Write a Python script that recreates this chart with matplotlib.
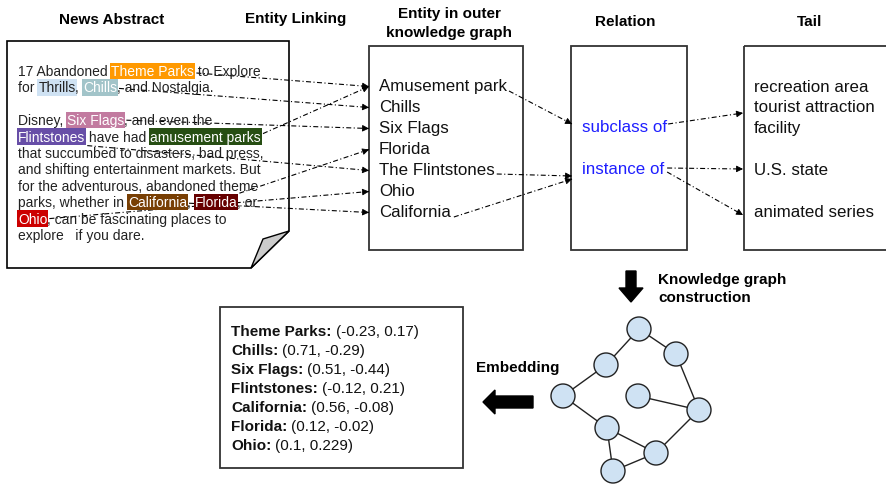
import matplotlib
matplotlib.use("Agg")
import matplotlib.pyplot as plt
from matplotlib.patches import Polygon, Rectangle, Circle

plt.rcParams["font.family"] = ["Liberation Sans", "DejaVu Sans"]

# news abstract: (text, highlight colour, text colour)
NEWS_LINES = [
    [("17 Abandoned ", None), ("Theme Parks", "#ff9900"), (" to Explore", None)],
    [("for ", None), ("Thrills", "#cfe2f3"), (", ", None), ("Chills", "#a2c4c9"),
     (", and Nostalgia.", None)],
    [],
    [("Disney, ", None), ("Six Flags", "#c27ba0"), (", and even the", None)],
    [("Flintstones", "#674ea7"), (" have had ", None), ("amusement parks", "#274e13")],
    [("that succumbed to disasters, bad press,", None)],
    [("and shifting entertainment markets. But", None)],
    [("for the adventurous, abandoned theme", None)],
    [("parks, whether in ", None), ("California", "#783f04"), (", ", None),
     ("Florida", "#660000"), (", or", None)],
    [("Ohio", "#cc0000"), (", can be fascinating places to", None)],
    [("explore   if you dare.", None)],
]
DARK_TEXT_ON = {"#cfe2f3"}

ENTITIES = ["Amusement park", "Chills", "Six Flags", "Florida",
            "The Flintstones", "Ohio", "California"]
RELATIONS = ["subclass of", "instance of"]
TAILS = [("recreation area", 0), ("tourist attraction", 1), ("facility", 2),
         ("U.S. state", 4), ("animated series", 6)]

# mention in abstract -> entity in outer KG
LINKS = [("Theme Parks", "Amusement park"), ("Chills", "Chills"),
         ("Six Flags", "Six Flags"), ("amusement parks", "Amusement park"),
         ("Flintstones", "The Flintstones"), ("California", "California"),
         ("Florida", "Florida"), ("Ohio", "Ohio")]

EMB_NAMES = ["Theme Parks", "Chills", "Six Flags", "Flintstones",
             "California", "Florida", "Ohio"]
EMB_VALUES = ["(-0.23, 0.17)", "(0.71, -0.29)", "(0.51, -0.44)", "(-0.12, 0.21)",
              "(0.56, -0.08)", "(0.12, -0.02)", "(0.1, 0.229)"]

# layout of the small knowledge graph drawing
NODES = [(639, 330), (676, 355), (606, 366), (563, 397), (638, 397),
         (699, 411), (607, 429), (656, 454), (613, 472)]
EDGES = [(0, 1), (0, 2), (2, 3), (3, 6), (4, 5), (1, 5), (5, 7), (6, 7),
         (6, 8), (8, 7)]

DASH = (0, (4.5, 2.2, 1.0, 2.2))
BOX_EC = "#333333"
BLUE = "#1f1fff"

fig = plt.figure(figsize=(8.86, 4.85), dpi=100)
ax = fig.add_axes([0, 0, 1, 1])
ax.set_xlim(0, 886)
ax.set_ylim(485, 0)
ax.axis("off")
renderer = fig.canvas.get_renderer()


def text_width(s, **kw):
    t = ax.text(0, 0, s, **kw)
    w = t.get_window_extent(renderer).width
    t.remove()
    return w


def prefix_width(s, **kw):
    # sentinel keeps trailing spaces in the measurement
    return text_width(s + "|", **kw) - text_width("|", **kw)


def dash_arrow(p0, p1):
    ax.plot([p0[0], p1[0]], [p0[1], p1[1]], color="k", lw=0.8, ls=DASH,
            solid_capstyle="butt")
    dx, dy = p1[0] - p0[0], p1[1] - p0[1]
    n = (dx ** 2 + dy ** 2) ** 0.5
    ax.annotate("", xy=p1, xytext=(p1[0] - 3 * dx / n, p1[1] - 3 * dy / n),
                arrowprops=dict(arrowstyle="-|>", color="k", lw=0.6,
                                mutation_scale=10, shrinkA=0, shrinkB=0))


# headers
hdr = dict(fontsize=11, fontweight="bold", ha="center", va="center")
ax.text(112, 20, "News Abstract", **hdr)
ax.text(296, 19, "Entity Linking", **hdr)
ax.text(449, 14, "Entity in outer", **hdr)
ax.text(449, 33, "knowledge graph", **hdr)
ax.text(625, 22, "Relation", **hdr)
ax.text(810, 22, "Tail", **hdr)

# news abstract page with folded corner
ax.add_patch(Polygon([(7, 42), (289, 42), (289, 232), (251, 269), (7, 269)],
                     closed=True, fc="white", ec="black", lw=1.2))
ax.add_patch(Polygon([(289, 232), (263, 240), (251, 269)], closed=True,
                     fc="#cccccc", ec="black", lw=1.0))

news_kw = dict(fontsize=10)
mention_box = {}
y0, step = 72.0, 16.4
for i, line in enumerate(NEWS_LINES):
    y = y0 + i * step
    prefix = ""
    for seg, hl in line:
        x = 18 + prefix_width(prefix, **news_kw) if prefix else 18
        if hl is None:
            ax.text(x, y, seg, va="center", ha="left", color="#222222", **news_kw)
        else:
            tc = "#222222" if hl in DARK_TEXT_ON else "white"
            t = ax.text(x, y, seg, va="center", ha="left", color=tc, zorder=3,
                        bbox=dict(boxstyle="square,pad=0.08", fc=hl, ec="none"),
                        **news_kw)
            w = text_width(seg, **news_kw)
            mention_box[seg] = (x, x + w, y)
        prefix += seg

# entity / relation / tail boxes
ax.add_patch(Rectangle((369, 47), 154, 204, fc="none", ec=BOX_EC, lw=1.3))
ax.add_patch(Rectangle((571, 47), 116, 204, fc="none", ec=BOX_EC, lw=1.3))
ax.add_patch(Rectangle((744, 47), 160, 204, fc="none", ec=BOX_EC, lw=1.3,
                       clip_on=False))

item_kw = dict(fontsize=12.2, va="center", ha="left")
ent_y = {}
ent_right = {}
for i, name in enumerate(ENTITIES):
    y = 87 + i * 21.0
    ax.text(379, y, name, color="#111111", **item_kw)
    ent_y[name] = y
    ent_right[name] = 379 + text_width(name, fontsize=12.2)

rel_y = {}
for i, r in enumerate(RELATIONS):
    y = 128 + i * 42
    ax.text(582, y, r, color=BLUE, **item_kw)
    rel_y[r] = y
rel_right = 582 + max(text_width(r, fontsize=12.2) for r in RELATIONS)

for name, row in TAILS:
    ax.text(754, 87 + row * 21.0, name, color="#111111", **item_kw)

# entity linking arrows
start_dy = {"Theme Parks": 2, "Chills": 1, "Six Flags": 0, "amusement parks": -3,
            "Flintstones": 9, "California": 1, "Florida": -9, "Ohio": 0}
for mention, ent in LINKS:
    x0, x1, y = mention_box[mention]
    dash_arrow((x1 + 2, y + start_dy[mention]), (369, ent_y[ent] + 0.5))

# entity -> relation
dash_arrow((ent_right["Amusement park"] + 2, 92), (572, 125))
dash_arrow((ent_right["The Flintstones"] + 2, 175), (572, 177))
dash_arrow((ent_right["California"] + 3, 218), (572, 180))

# relation -> tail
dash_arrow((rel_right + 1, rel_y["subclass of"] - 3), (743, 114))
dash_arrow((rel_right, rel_y["instance of"] - 1), (743, 170))
dash_arrow((rel_right, rel_y["instance of"] + 3), (743, 216))

# knowledge graph construction
ax.arrow(631, 272, 0, 31, width=10, head_width=24, head_length=14,
         length_includes_head=True, fc="k", ec="k")
bold_kw = dict(fontsize=11, fontweight="bold", ha="left", va="center")
ax.text(658, 280, "Knowledge graph", **bold_kw)
ax.text(658, 298, "construction", **bold_kw)

for a, b in EDGES:
    ax.plot([NODES[a][0], NODES[b][0]], [NODES[a][1], NODES[b][1]],
            color="#222222", lw=1.0, zorder=1)
for x, y in NODES:
    ax.add_patch(Circle((x, y), 12, fc="#cfe2f3", ec="#222222", lw=1.0,
                        zorder=2, clip_on=False))

# embedding
ax.arrow(533, 403, -50, 0, width=12, head_width=24, head_length=12,
         length_includes_head=True, fc="k", ec="k")
ax.text(476, 368, "Embedding", **bold_kw)

ax.add_patch(Rectangle((220, 308), 243, 161, fc="white", ec=BOX_EC, lw=1.3))
for i, (name, val) in enumerate(zip(EMB_NAMES, EMB_VALUES)):
    y = 332 + i * 19.0
    label = name + ":"
    ax.text(231, y, label, fontsize=11, fontweight="bold", va="center",
            ha="left", color="#111111")
    w = prefix_width(label + " ", fontsize=11, fontweight="bold")
    ax.text(231 + w, y, val, fontsize=11, va="center", ha="left", color="#111111")

fig.savefig("out.png", dpi=100)
